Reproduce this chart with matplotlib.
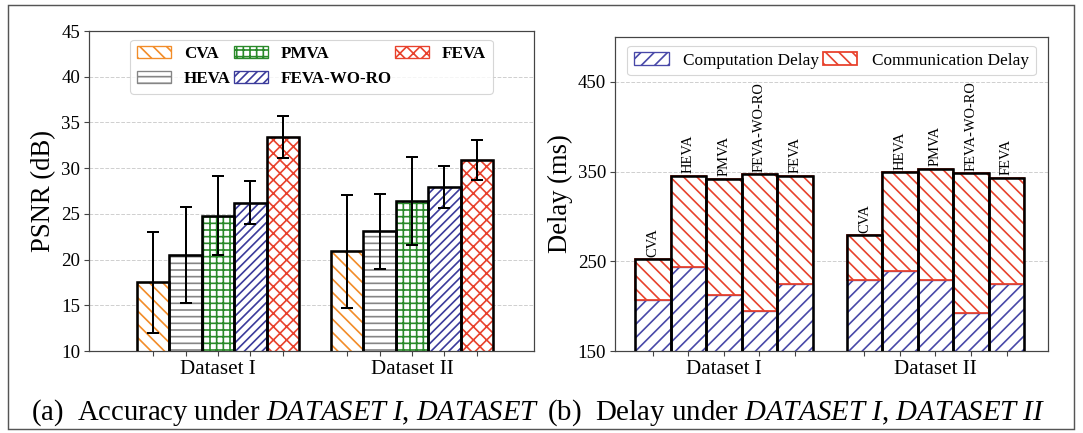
import numpy as np
import matplotlib
matplotlib.use('Agg')
import matplotlib.pyplot as plt
from matplotlib.patches import Rectangle

plt.rcParams['font.family'] = ['Liberation Serif', 'DejaVu Serif']
plt.rcParams['mathtext.fontset'] = 'custom'
plt.rcParams['mathtext.rm'] = 'Liberation Serif'
plt.rcParams['mathtext.it'] = 'Liberation Serif:italic'
plt.rcParams['hatch.linewidth'] = 1.5

## data
datasets = ['Dataset I', 'Dataset II']
methods = ['CVA', 'HEVA', 'PMVA', 'FEVA-WO-RO', 'FEVA']

psnr_d1 = [17.5, 20.5, 24.8, 26.2, 33.4]
psnr_d2 = [20.9, 23.1, 26.4, 27.9, 30.9]
err_d1 = [5.55, 5.2, 4.3, 2.35, 2.25]
err_d2 = [6.2, 4.1, 4.8, 2.3, 2.2]

comp_d1 = [207, 244, 212, 195, 225]
total_d1 = [252, 345, 342, 347, 345]
comp_d2 = [229, 239, 229, 192, 225]
total_d2 = [279, 349, 353, 348, 343]

## styles
m_colors = ['#f28c28', '#858585', '#2a8a2a', '#3b3b9b', '#e8412c']
m_hatch = ['\\\\', '--', '++', '///', 'xx']
comp_color = '#4848a8'
comm_color = '#e8412c'
spine_c = '#444444'

fig = plt.figure(figsize=(1083/80., 433/80.), dpi=80)
ax1 = fig.add_axes([89/1083., 82/433., 445/1083., 320/433.])
ax2 = fig.add_axes([615/1083., 82/433., 433/1083., 314/433.])

def style_axes(ax):
    for s in ax.spines.values():
        s.set_color(spine_c)
        s.set_linewidth(1.1)
    ax.tick_params(axis='both', colors=spine_c, labelcolor='black', length=4.5, width=1.0)
    ax.yaxis.grid(True, linestyle='--', color='#d0d0d0', lw=0.9)
    ax.set_axisbelow(True)

##---------------------------------------------------------------------------
## (a) PSNR
w1 = 0.167
centers = np.arange(len(datasets))
vals = [psnr_d1, psnr_d2]
errs = [err_d1, err_d2]
xt = []
xl = []
for g in range(len(datasets)):
    for i in range(len(methods)):
        x = centers[g] + (i - 2) * w1
        ax1.bar(x, vals[g][i], w1, facecolor='white', edgecolor=m_colors[i],
                hatch=m_hatch[i], lw=1.2, label=methods[i] if g == 0 else None, zorder=2)
        ax1.bar(x, vals[g][i], w1, fill=False, edgecolor='black', lw=2.3, zorder=3)
        ax1.errorbar(x, vals[g][i], yerr=errs[g][i], color='black', elinewidth=1.8,
                     capsize=5.5, capthick=1.8, zorder=4)
        xt.append(x)
        xl.append(datasets[g] if i == 2 else '')

ax1.set_xticks(xt)
ax1.set_xticklabels(xl, fontsize=19)
ax1.set_xlim(-0.665, 1.629)
ax1.set_ylim(10, 45)
ax1.set_yticks(np.arange(10, 46, 5))
ax1.tick_params(axis='y', labelsize=17)
ax1.set_ylabel('PSNR (dB)', fontsize=24, labelpad=4)
style_axes(ax1)
ax1.legend(ncol=3, loc='upper center', columnspacing=0.2, handletextpad=0.75,
           prop={'size': 15.3, 'weight': 'bold'})

##---------------------------------------------------------------------------
## (b) Delay
w2 = 0.168
comps = [comp_d1, comp_d2]
totals = [total_d1, total_d2]
xt = []
xl = []
for g in range(len(datasets)):
    for i in range(len(methods)):
        x = centers[g] + (i - 2) * w2
        comp = comps[g][i]
        comm = totals[g][i] - comp
        first = (g == 0 and i == 0)
        ax2.bar(x, comp, w2, facecolor='white', edgecolor=comp_color, hatch='//',
                lw=1.2, zorder=2, label='Computation Delay' if first else None)
        ax2.bar(x, comm, w2, bottom=comp, facecolor='white', edgecolor=comm_color,
                hatch='\\\\', lw=1.6, zorder=2, label='Communication Delay' if first else None)
        ax2.bar(x, totals[g][i], w2, fill=False, edgecolor='black', lw=2.3, zorder=3)
        ax2.text(x, totals[g][i] + 3, methods[i], rotation=90, ha='center', va='bottom',
                 fontsize=13)
        xt.append(x)
        xl.append(datasets[g] if i == 2 else '')

ax2.set_xticks(xt)
ax2.set_xticklabels(xl, fontsize=19)
ax2.set_xlim(-0.515, 1.532)
ax2.set_ylim(150, 500)
ax2.set_yticks([150, 250, 350, 450])
ax2.tick_params(axis='y', labelsize=17)
ax2.set_ylabel('Delay (ms)', fontsize=24, labelpad=4)
style_axes(ax2)
ax2.legend(ncol=2, loc='upper center', columnspacing=0.2, handletextpad=0.85,
           prop={'size': 15.5})

##---------------------------------------------------------------------------
## captions and outer frame
fig.text(31/1083., 13/433., r'(a)  Accuracy under $\mathit{DATASET\ I}$, $\mathit{DATASET}$',
         fontsize=25.8, va='baseline', ha='left')
fig.text(547/1083., 13/433., r'(b)  Delay under $\mathit{DATASET\ I}$, $\mathit{DATASET\ II}$',
         fontsize=26, va='baseline', ha='left')
fig.patches.append(Rectangle((8/1083., 4/433.), 1066/1083., 424/433., transform=fig.transFigure,
                             fill=False, edgecolor='#555555', lw=1.3))

fig.savefig('out.png', dpi=80)
